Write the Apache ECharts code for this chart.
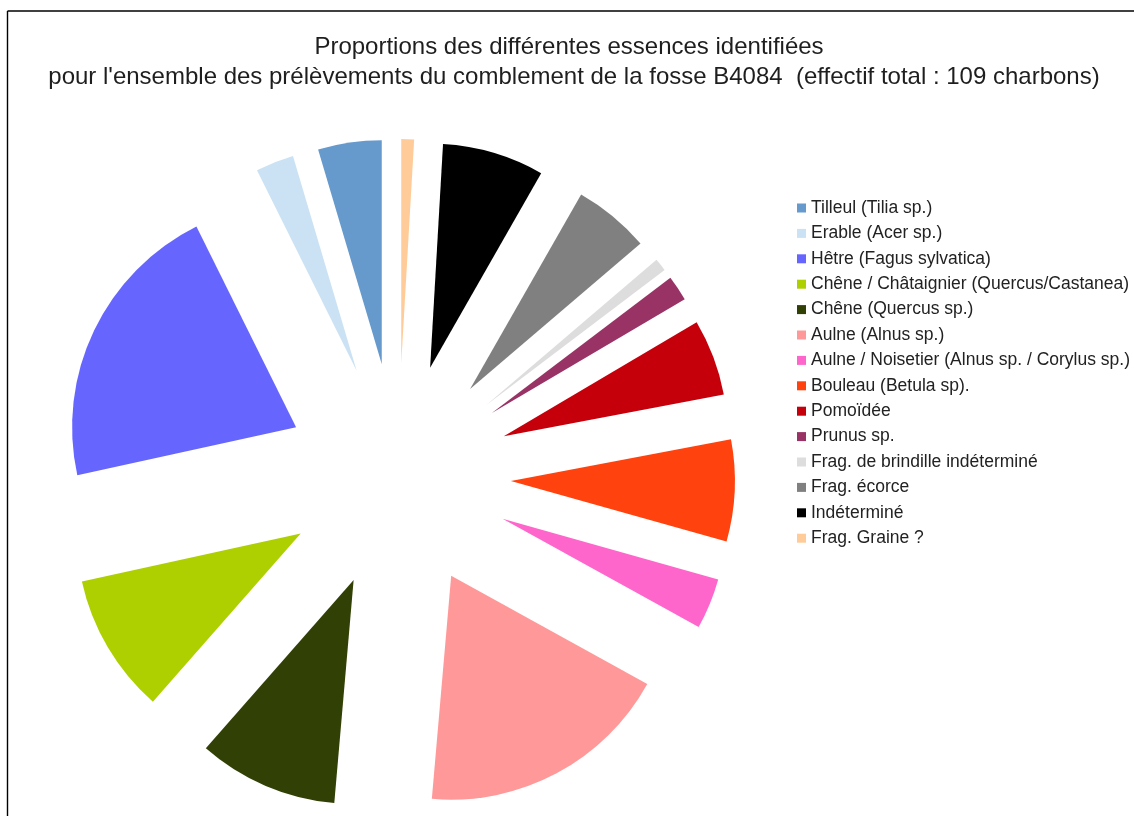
<!DOCTYPE html>
<html lang="fr">
<head>
<meta charset="utf-8">
<title>Proportions des essences – fosse B4084</title>
<script src="https://cdn.jsdelivr.net/npm/echarts@6/dist/echarts.min.js"></script>
<style>
  html, body { margin: 0; padding: 0; background: #ffffff; }
  #chart { width: 1134px; height: 816px; }
</style>
</head>
<body>
<div id="chart"></div>
<script>
// Taxa identified in the fill of pit B4084 (109 charcoal fragments in total)
const categories = [
  'Tilleul (Tilia sp.)',
  'Erable (Acer sp.)',
  'Hêtre (Fagus sylvatica)',
  'Chêne / Châtaignier (Quercus/Castanea)',
  'Chêne (Quercus sp.)',
  'Aulne (Alnus sp.)',
  'Aulne / Noisetier (Alnus sp. / Corylus sp.)',
  'Bouleau (Betula sp).',
  'Pomoïdée',
  'Prunus sp.',
  'Frag. de brindille indéterminé',
  'Frag. écorce',
  'Indéterminé',
  'Frag. Graine ?'
];

// Number of charcoals per taxon
const counts = [5, 3, 23, 11, 11, 20, 4, 8, 6, 2, 1, 6, 8, 1];

const titleLines = [
  'Proportions des différentes essences identifiées',
  "pour l'ensemble des prélèvements du comblement de la fosse B4084  (effectif total : 109 charbons)"
];

const palette = [
  '#6699cc', '#cae2f3', '#6666ff', '#aecf00', '#314004', '#ff9999', '#ff66cc',
  '#ff420e', '#c5000b', '#993366', '#dddddd', '#808080', '#000000', '#ffcc99'
];

const FONT = '"Liberation Sans", Arial, sans-serif';
const titleCenters = [569, 574];

const chart = echarts.init(document.getElementById('chart'), null, { renderer: 'canvas' });

chart.setOption({
  animation: false,
  backgroundColor: '#ffffff',
  color: palette,
  title: titleLines.map((line, i) => ({
    text: line,
    left: titleCenters[i],
    textAlign: 'center',
    top: 32 + i * 30,
    padding: 0,
    textStyle: {
      fontFamily: FONT,
      fontSize: 24,
      fontWeight: 'normal',
      lineHeight: 30,
      color: '#1e1e1e'
    }
  })),
  legend: {
    orient: 'vertical',
    left: 797,
    top: 198,
    padding: 0,
    itemWidth: 9,
    itemHeight: 9,
    itemGap: 5.4,
    icon: 'rect',
    selectedMode: false,
    data: categories,
    textStyle: {
      fontFamily: FONT,
      fontSize: 17.5,
      lineHeight: 20,
      color: '#222222'
    }
  },
  // chart frame (top and left edges are the visible part)
  graphic: [
    { type: 'line', shape: { x1: 7.5, y1: 11, x2: 1134, y2: 11 }, style: { stroke: '#000', lineWidth: 1.4 } },
    { type: 'line', shape: { x1: 7.5, y1: 11, x2: 7.5, y2: 816 }, style: { stroke: '#000', lineWidth: 1.4 } }
  ],
  series: [{
    type: 'pie',
    center: [398, 476],
    radius: 224,
    startAngle: 90,
    clockwise: false,
    selectedMode: 'multiple',
    selectedOffset: 113,
    avoidLabelOverlap: false,
    label: { show: false },
    labelLine: { show: false },
    itemStyle: { borderWidth: 0 },
    emphasis: { disabled: true },
    select: { itemStyle: { borderWidth: 0 } },
    data: categories.map((name, i) => ({
      name: name,
      value: counts[i],
      selected: true,
      itemStyle: { color: palette[i] },
      select: { itemStyle: { color: palette[i], borderWidth: 0 } }
    }))
  }]
});
</script>
</body>
</html>
